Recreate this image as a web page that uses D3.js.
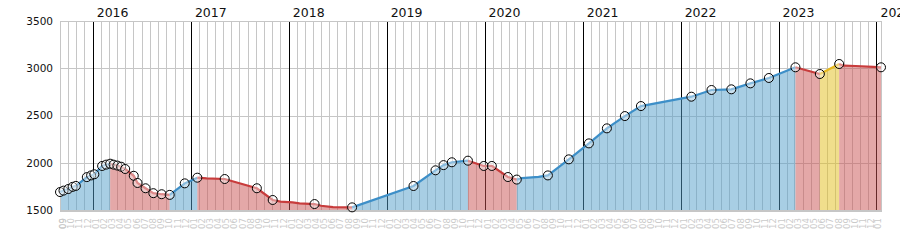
<!DOCTYPE html>
<html>
<head>
<meta charset="utf-8">
<script src="https://cdn.jsdelivr.net/npm/d3@7/dist/d3.min.js"></script>
<style>
  body { margin: 0; background: #fff; }
  svg { display: block; font-family: "DejaVu Sans", sans-serif; }
</style>
</head>
<body>
<svg width="900" height="250"></svg>
<script>
// observations (date, value) and whether a marker is drawn there
const dates = [
  "2015-09-01","2015-09-14","2015-10-02","2015-10-18","2015-10-30","2015-12-10","2015-12-26",
  "2016-01-07","2016-02-05","2016-02-20","2016-03-06","2016-03-19","2016-04-02","2016-04-16",
  "2016-05-01","2016-06-02","2016-06-16","2016-07-16","2016-08-14","2016-09-14","2016-10-14",
  "2016-12-09","2017-01-25","2017-03-01","2017-05-07","2017-09-04","2017-11-02","2017-12-01",
  "2018-01-15","2018-02-10","2018-04-07","2018-05-01","2018-06-15","2018-08-25","2019-04-11",
  "2019-07-02","2019-08-01","2019-09-01","2019-10-31","2019-12-29","2020-01-28","2020-03-28",
  "2020-04-30","2020-05-20","2020-07-20","2020-08-24","2020-11-10","2021-01-24","2021-04-01",
  "2021-06-07","2021-08-06","2022-02-10","2022-04-26","2022-07-09","2022-09-18","2022-11-26",
  "2023-03-05","2023-06-04","2023-08-15","2023-09-01","2023-10-15","2023-12-20","2024-01-18"
];
const values = [
  1690,1705,1722,1745,1755,1848,1866,
  1878,1966,1980,1990,1980,1970,1958,
  1934,1862,1786,1730,1678,1667,1660,
  1782,1842,1835,1828,1730,1606,1588,
  1581,1571,1563,1545,1530,1528,1754,
  1920,1975,2005,2022,1966,1966,1849,
  1822,1838,1850,1866,2036,2205,2364,
  2494,2600,2699,2770,2777,2840,2897,
  3010,2939,3045,3027,3024,3015,3010
];
const marked = [
  1,1,1,1,1,1,1,
  1,1,1,1,1,1,1,
  1,1,1,1,1,1,1,
  1,1,0,1,1,1,0,
  0,0,1,0,0,1,1,
  1,1,1,1,1,1,1,
  1,0,0,1,1,1,1,
  1,1,1,1,1,1,1,
  1,1,1,0,0,0,1
];

// trend phases: start dates and kind
const phaseStarts = ["2015-09-01","2016-03-06","2016-10-14","2017-01-25","2018-08-25",
                     "2019-10-31","2020-04-30","2023-03-05","2023-06-04","2023-08-15"];
const phaseKinds  = ["up","down","up","down","up","down","up","down","side","down"];

const yTicks = [1500, 2000, 2500, 3000, 3500];

const fillColor = {up: "rgb(82,157,201)", down: "rgb(201,81,81)", side: "rgb(226,190,26)"};
const lineColor = {up: "#3d8fc8", down: "#c83c3c", side: "#e6b81e"};

const parse = d3.utcParse("%Y-%m-%d");
const data = dates.map((d, i) => ({date: parse(d), value: values[i], marked: marked[i]}));

const svg = d3.select("svg");
const plotL = 60, plotR = 881, plotT = 21, plotB = 210;

const x = d3.scaleUtc()
    .domain(d3.extent(data, d => d.date))
    .range([plotL, plotR]);
const y = d3.scaleLinear()
    .domain([1500, 3500])
    .range([plotB, plotT]);

const [d0, d1] = x.domain();
const months = d3.utcMonth.range(d3.utcMonth.ceil(d0), d1);
const years = d3.utcYear.range(d3.utcYear.ceil(d0), d3.utcDay.offset(d1, 1));

// month grid
svg.append("g").selectAll("line")
    .data(months)
    .join("line")
    .attr("x1", d => Math.round(x(d)) + 0.5)
    .attr("x2", d => Math.round(x(d)) + 0.5)
    .attr("y1", plotT).attr("y2", plotB)
    .attr("stroke", "#c6c6c6");

// horizontal grid
svg.append("g").selectAll("line")
    .data(yTicks)
    .join("line")
    .attr("x1", plotL).attr("x2", plotR)
    .attr("y1", d => Math.round(y(d)) + 0.5)
    .attr("y2", d => Math.round(y(d)) + 0.5)
    .attr("stroke", "#c6c6c6");

// year lines
svg.append("g").selectAll("line")
    .data(years)
    .join("line")
    .attr("x1", d => Math.round(x(d)) + 0.5)
    .attr("x2", d => Math.round(x(d)) + 0.5)
    .attr("y1", plotT).attr("y2", plotB)
    .attr("stroke", "#000");

// year labels
svg.append("g").selectAll("text")
    .data(years)
    .join("text")
    .attr("x", d => x(d) + 4)
    .attr("y", 17)
    .attr("font-size", "12.5px")
    .attr("fill", "#111")
    .text(d => d.getUTCFullYear());

// y labels
svg.append("g").selectAll("text")
    .data(yTicks)
    .join("text")
    .attr("x", 53)
    .attr("y", d => y(d))
    .attr("dy", "0.36em")
    .attr("text-anchor", "end")
    .attr("font-size", "10.5px")
    .attr("fill", "#111")
    .text(d => d);

// month labels, centred in each month
const monthStarts = [d0].concat(months);
svg.append("g").selectAll("text")
    .data(monthStarts)
    .join("text")
    .attr("transform", d => {
        const a = x(d), b = x(d3.utcMonth.offset(d3.utcMonth.floor(d), 1));
        const cx = (a + Math.min(b, plotR)) / 2 + 2;
        return "translate(" + cx + ",229) rotate(-90)";
    })
    .attr("font-size", "8.5px")
    .attr("fill", "#cacaca")
    .text(d => d3.utcFormat("%m")(d));

// phases
const phases = phaseStarts.map((s, i) => ({
    start: parse(s),
    end: i + 1 < phaseStarts.length ? parse(phaseStarts[i + 1]) : d1,
    kind: phaseKinds[i]
}));

const defs = svg.append("defs");
phases.forEach((p, i) => {
    defs.append("clipPath").attr("id", "ph" + i)
        .append("rect")
        .attr("x", x(p.start)).attr("y", 0)
        .attr("width", x(p.end) - x(p.start)).attr("height", 250);
});

const area = d3.area()
    .x(d => x(d.date))
    .y0(plotB)
    .y1(d => y(d.value));
const line = d3.line()
    .x(d => x(d.date))
    .y(d => y(d.value));

phases.forEach((p, i) => {
    svg.append("path")
        .datum(data)
        .attr("clip-path", "url(#ph" + i + ")")
        .attr("d", area)
        .attr("fill", fillColor[p.kind])
        .attr("fill-opacity", 0.5);
});

// frame
svg.append("rect")
    .attr("x", plotL + 0.5).attr("y", plotT + 0.5)
    .attr("width", plotR - plotL).attr("height", plotB - plotT)
    .attr("fill", "none")
    .attr("stroke", "#c6c6c6");
svg.append("line")
    .attr("x1", plotL).attr("x2", plotR + 1)
    .attr("y1", plotB + 1).attr("y2", plotB + 1)
    .attr("stroke", "#c6c6c6").attr("stroke-width", 2);

phases.forEach((p, i) => {
    const seg = data.filter(d => d.date >= p.start && d.date <= p.end);
    svg.append("path")
        .datum(seg)
        .attr("d", line)
        .attr("fill", "none")
        .attr("stroke", lineColor[p.kind])
        .attr("stroke-width", 2.2);
});

// markers
svg.append("g").selectAll("circle")
    .data(data.filter(d => d.marked))
    .join("circle")
    .attr("cx", d => x(d.date))
    .attr("cy", d => y(d.value))
    .attr("r", 4.5)
    .attr("fill", "#fff")
    .attr("fill-opacity", 0.4)
    .attr("stroke", "#000")
    .attr("stroke-width", 1);
</script>
</body>
</html>
